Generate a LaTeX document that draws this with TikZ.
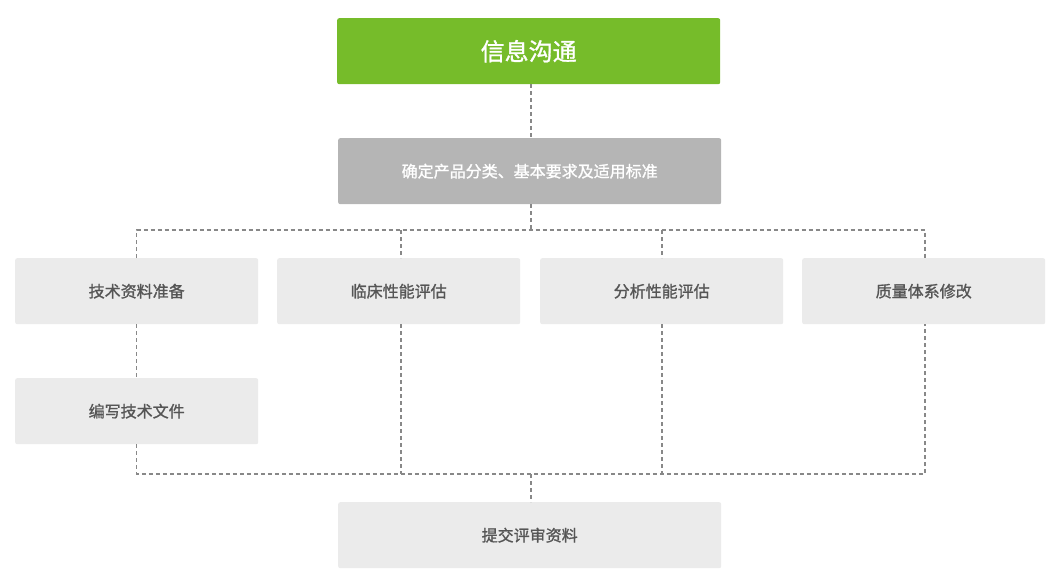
\documentclass[tikz,border=0pt]{standalone}
\usepackage{fontspec}
\newfontfamily\cjk[FakeBold=1.2]{Noto Sans CJK SC}
\definecolor{green1}{HTML}{76BC2A}
\definecolor{grey1}{HTML}{B5B5B5}
\definecolor{light1}{HTML}{EBEBEB}
\definecolor{txt1}{HTML}{555555}
\definecolor{line1}{HTML}{888888}
\tikzset{
  base/.style={rectangle, rounded corners=2pt, inner sep=0pt, anchor=north west},
  greenbox/.style={base, fill=green1, text=white, font=\cjk\fontsize{24}{28}\selectfont, minimum width=383pt, minimum height=66pt},
  greybox/.style={base, fill=grey1, text=white, font=\cjk\fontsize{16}{19}\selectfont, minimum width=383pt, minimum height=66pt},
  lightbox/.style={base, fill=light1, text=txt1, font=\cjk\fontsize{16}{19}\selectfont, minimum width=243pt, minimum height=66pt},
  widebox/.style={lightbox, minimum width=383pt},
  conn/.style={draw=line1, line width=1.7pt, dash pattern=on 4pt off 3pt}
}
\begin{document}
\begin{tikzpicture}[x=1pt,y=-1pt]
\useasboundingbox (0,0) rectangle (1063,587);
\node[greenbox] (info) at (337,18) {信息沟通};
\node[greybox] (cls) at (338,138) {确定产品分类、基本要求及适用标准};
\node[lightbox] (tech) at (15,258) {技术资料准备};
\node[lightbox] (clin) at (277,258) {临床性能评估};
\node[lightbox] (anal) at (540,258) {分析性能评估};
\node[lightbox] (qual) at (802,258) {质量体系修改};
\node[lightbox] (write) at (15,378) {编写技术文件};
\node[widebox] (sub) at (338,502) {提交评审资料};
% junction coordinates
\coordinate (tc) at (531,230);
\coordinate (t1) at (136.5,230);
\coordinate (t2) at (401,230);
\coordinate (t3) at (662,230);
\coordinate (t4) at (925,230);
\coordinate (bc) at (531,474);
\coordinate (b1) at (136.5,474);
\coordinate (b2) at (401,474);
\coordinate (b3) at (662,474);
\coordinate (b4) at (925,474);
% top section
\draw[conn] (info.south -| tc) -- (cls.north -| tc);
\draw[conn] (cls.south -| tc) -- (tc);
\draw[conn] (tech.north -| t1) -- (t1) -- (t4) -- (qual.north -| t4);
\draw[conn] (t2) -- (clin.north -| t2);
\draw[conn] (t3) -- (anal.north -| t3);
% middle
\draw[conn] (tech.south -| t1) -- (write.north -| t1);
% bottom section
\draw[conn] (write.south -| b1) -- (b1) -- (b4) -- (qual.south -| b4);
\draw[conn] (clin.south -| b2) -- (b2);
\draw[conn] (anal.south -| b3) -- (b3);
\draw[conn] (bc) -- (sub.north -| bc);
\end{tikzpicture}
\end{document}
